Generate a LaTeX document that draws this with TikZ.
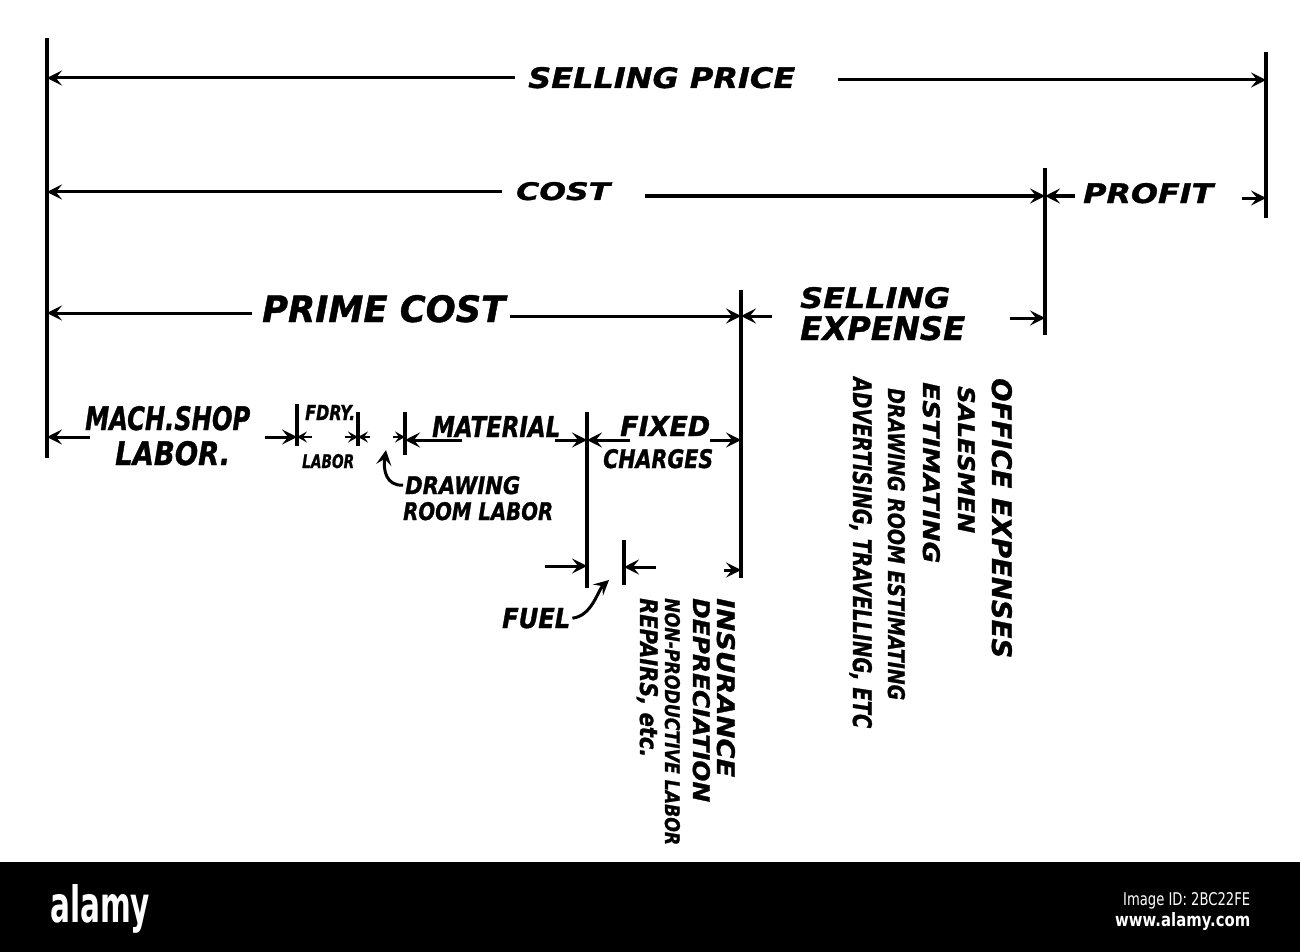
\documentclass[tikz,border=0pt]{standalone}
\usepackage{fontspec}
\setmainfont{DejaVu Sans}[BoldItalicFeatures={FakeBold=1.2}]
\usepackage{graphicx}
\usetikzlibrary{arrows.meta}
\newcommand{\fb}[3]{\resizebox{#1pt}{#2pt}{#3}}
\begin{document}
\begin{tikzpicture}[x=1pt,y=-1pt,
  vline/.style={line width=4.5pt},
  tick/.style={line width=3.6pt},
  dim/.style={line width=3pt,-{Stealth[length=15pt,width=15pt,inset=6pt]}},
  sdim/.style={line width=2.6pt,-{Stealth[length=10pt,width=11pt,inset=4pt]}},
  lbl/.style={anchor=base west,inner sep=0pt,font=\bfseries\itshape},
  vlbl/.style={lbl,rotate=-90},
  wm/.style={anchor=base west,inner sep=0pt,text=white,font=\bfseries}]
\fill[white] (0,0) rectangle (1300,952);
\useasboundingbox (0,0) rectangle (1300,952);
% vertical boundary lines
\coordinate (V0a) at (47,38);   \coordinate (V0b) at (47,458);
\coordinate (V1a) at (1266,52); \coordinate (V1b) at (1266,218);
\coordinate (V2a) at (1045,168);\coordinate (V2b) at (1045,335);
\coordinate (V3a) at (741,290); \coordinate (V3b) at (741,578);
\coordinate (V4a) at (587,412); \coordinate (V4b) at (587,588);
\coordinate (T1a) at (297,404); \coordinate (T1b) at (297,446);
\coordinate (T2a) at (358,412); \coordinate (T2b) at (358,446);
\coordinate (T3a) at (405,412); \coordinate (T3b) at (405,455);
\coordinate (T4a) at (624,540); \coordinate (T4b) at (624,585);
\draw[vline] (V0a) -- (V0b);
\draw[vline] (V1a) -- (V1b);
\draw[vline] (V2a) -- (V2b);
\draw[vline] (V3a) -- (V3b);
\draw[vline] (V4a) -- (V4b);
\draw[tick] (T1a) -- (T1b);
\draw[tick] (T2a) -- (T2b);
\draw[tick] (T3a) -- (T3b);
\draw[tick] (T4a) -- (T4b);
% labels
\node[lbl] (sp) at (528,88) {\fb{267}{21}{SELLING PRICE}};
\node[lbl] (co) at (516,200) {\fb{94}{18}{COST}};
\node[lbl] (pr) at (1083,203) {\fb{130}{20}{PROFIT}};
\node[lbl] (pc) at (262,322) {\fb{243}{27}{PRIME COST}};
\node[lbl] (se1) at (800,308) {\fb{150}{21}{SELLING}};
\node[lbl] (se2) at (800,340) {\fb{165}{24}{EXPENSE}};
\node[lbl] (ms1) at (85,430) {\fb{165}{24}{MACH.SHOP}};
\node[lbl] (ms2) at (115,465) {\fb{115}{24}{LABOR.}};
\node[lbl] (fd1) at (305,420) {\fb{50}{15}{FDRY.}};
\node[lbl] (fd2) at (302,468) {\fb{52}{14}{LABOR}};
\node[lbl] (ma) at (432,437) {\fb{128}{21}{MATERIAL}};
\node[lbl] (fx1) at (620,436) {\fb{90}{20}{FIXED}};
\node[lbl] (fx2) at (603,468) {\fb{110}{19}{CHARGES}};
\node[lbl] (dr1) at (405,494) {\fb{115}{18}{DRAWING}};
\node[lbl] (dr2) at (403,520) {\fb{150}{18}{ROOM LABOR}};
\node[lbl] (fu) at (502,628) {\fb{68}{20}{FUEL}};
% vertical lists
\node[vlbl] (in) at (717,598) {\fb{179}{18}{INSURANCE}};
\node[vlbl] (de) at (693,598) {\fb{204}{17}{DEPRECIATION}};
\node[vlbl] (np) at (665,598) {\fb{247}{15}{NON-PRODUCTIVE LABOR}};
\node[vlbl] (re) at (640,598) {\fb{159}{18}{REPAIRS, etc.}};
\node[vlbl] (oe) at (992,378) {\fb{280}{20}{OFFICE EXPENSES}};
\node[vlbl] (sa) at (958,386) {\fb{147}{17}{SALESMEN}};
\node[vlbl] (es) at (923,382) {\fb{181}{17}{ESTIMATING}};
\node[vlbl] (dre) at (888,388) {\fb{312}{17}{DRAWING ROOM ESTIMATING}};
\node[vlbl] (ad) at (853,377) {\fb{351}{19}{ADVERTISING, TRAVELLING, ETC}};
% dimension arrows
\coordinate (a1) at (515,78);   \draw[dim] (a1) -- (a1 -| V0a);
\coordinate (a2) at (838,80);   \draw[dim] (a2) -- (a2 -| V1a);
\coordinate (a3) at (502,192);  \draw[dim] (a3) -- (a3 -| V0a);
\coordinate (a4) at (645,196);  \draw[dim] (a4) -- (a4 -| V2a);
\coordinate (a5) at (1075,196); \draw[dim] (a5) -- (a5 -| V2a);
\coordinate (a6) at (1242,198); \draw[dim] (a6) -- (a6 -| V1a);
\coordinate (a7) at (252,313);  \draw[dim] (a7) -- (a7 -| V0a);
\coordinate (a8) at (510,316);  \draw[dim] (a8) -- (a8 -| V3a);
\coordinate (a9) at (772,316);  \draw[dim] (a9) -- (a9 -| V3a);
\coordinate (a10) at (1010,318);\draw[dim] (a10) -- (a10 -| V2a);
\coordinate (a11) at (90,437);  \draw[dim] (a11) -- (a11 -| V0a);
\coordinate (a12) at (265,437); \draw[dim] (a12) -- (a12 -| T1a);
\coordinate (a13) at (312,437); \draw[sdim] (a13) -- (a13 -| T1a);
\coordinate (a14) at (345,437); \draw[sdim] (a14) -- (a14 -| T2a);
\coordinate (a15) at (370,437); \draw[sdim] (a15) -- (a15 -| T2a);
\coordinate (a16) at (393,437); \draw[sdim] (a16) -- (a16 -| T3a);
\coordinate (a17) at (462,440); \draw[dim] (a17) -- (a17 -| T3a);
\coordinate (a18) at (555,440); \draw[dim] (a18) -- (a18 -| V4a);
\coordinate (a19) at (630,440); \draw[dim] (a19) -- (a19 -| V4a);
\coordinate (a20) at (710,440); \draw[dim] (a20) -- (a20 -| V3a);
\coordinate (a21) at (545,566); \draw[dim] (a21) -- (a21 -| V4a);
\coordinate (a22) at (656,567); \draw[dim] (a22) -- (a22 -| T4a);
\coordinate (a23) at (724,570); \draw[dim] (a23) -- (a23 -| V3a);
% pointer arrows
\coordinate (p1) at (386,450);
\draw[dim] ([xshift=-2pt]dr1.west) .. controls (386,486) and (383,470) .. (p1);
\coordinate (p2) at (609,580);
\draw[dim] ([xshift=2pt]fu.east) .. controls (592,616) and (598,590) .. (p2);
% watermark band
\fill[black] (0,862) rectangle (1300,952);
\node[wm] (logo) at (50,922) {\fb{100}{38}{alamy}};
\node[wm,font=\normalfont] (iid) at (1123,905) {\fb{127}{13}{Image ID: 2BC22FE}};
\node[wm] (url) at (1115,926) {\fb{135}{14}{www.alamy.com}};
\end{tikzpicture}
\end{document}
